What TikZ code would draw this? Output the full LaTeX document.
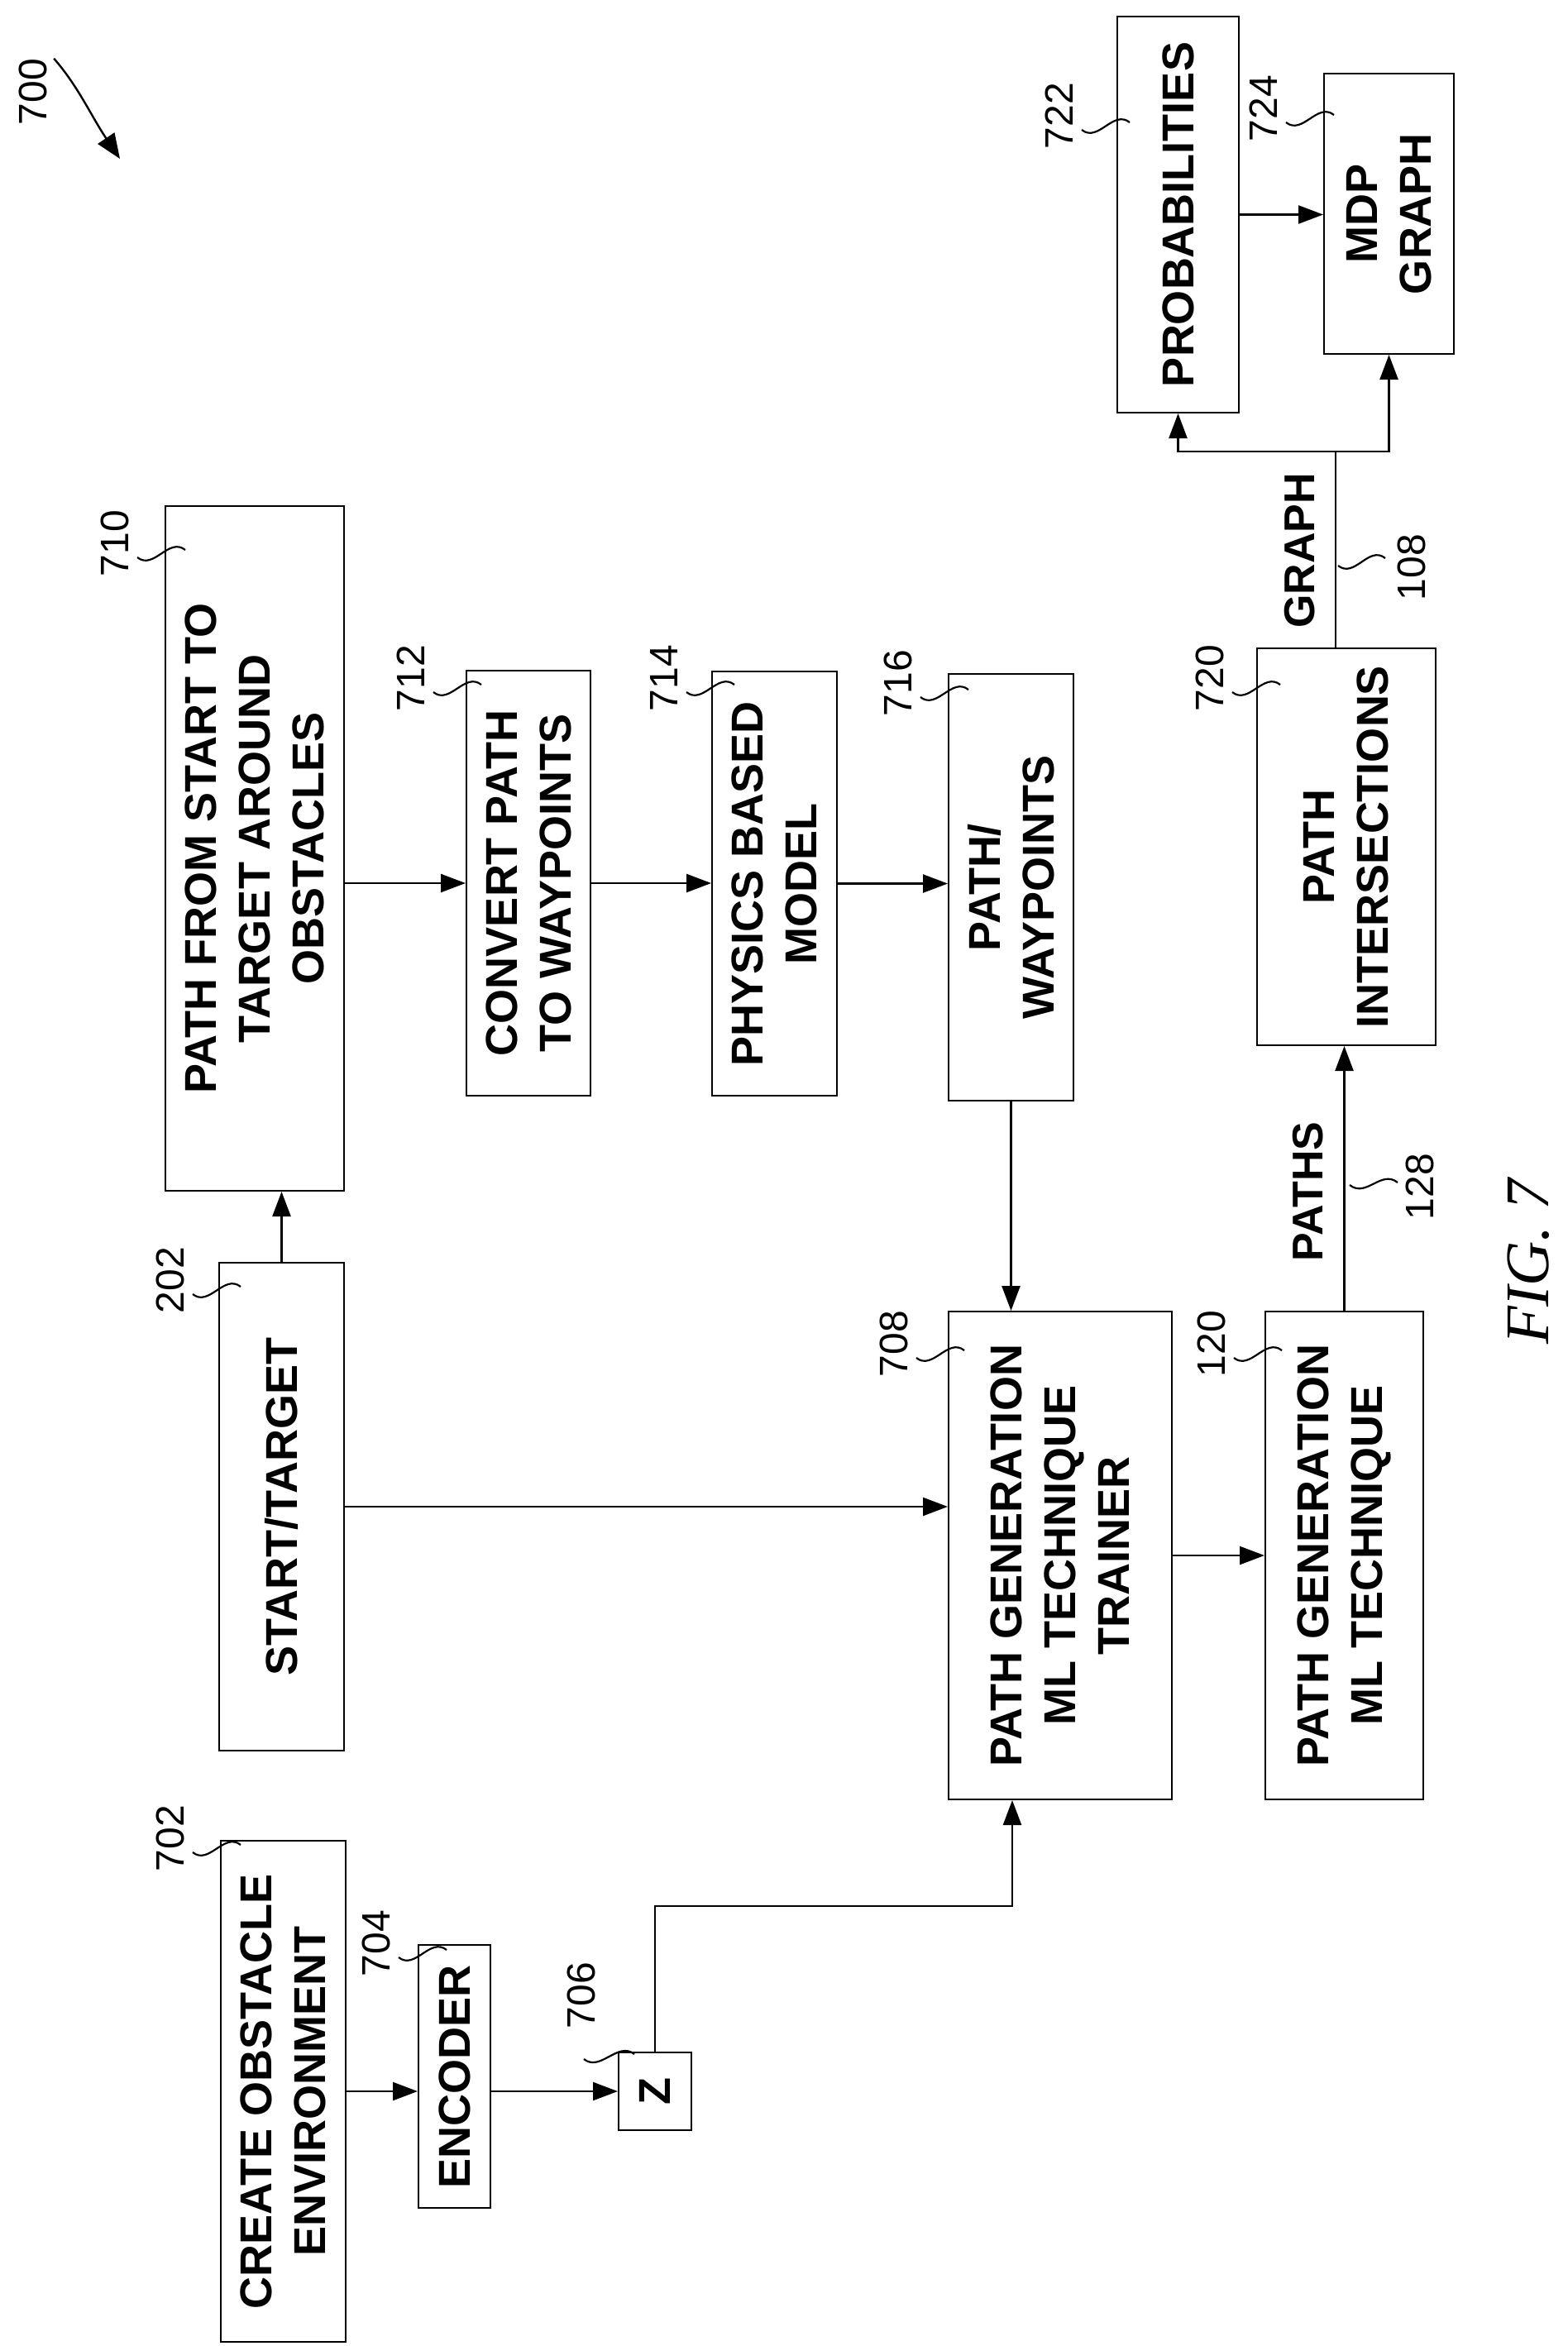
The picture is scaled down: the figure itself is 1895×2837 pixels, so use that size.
\documentclass[tikz,border=0pt]{standalone}
\usepackage{fontspec}
\setmainfont{Liberation Sans}
\newfontfamily\seriffont{Liberation Serif}
\usetikzlibrary{arrows.meta,calc}
\begin{document}
\begin{tikzpicture}[x=1pt,y=-1pt,
  box/.style={draw,line width=2pt,inner sep=0pt},
  txt/.style={rotate=90,align=center,font=\fontsize{54}{65}\selectfont\bfseries,inner sep=0pt},
  num/.style={rotate=90,font=\fontsize{48}{50}\selectfont,inner sep=0pt},
  arr/.style={line width=2.4pt,-{Triangle[length=30pt,width=22pt]}},
  ln/.style={line width=2.4pt},
  sq/.style={line width=2.2pt}]
\useasboundingbox (0,0) rectangle (1895,2837);
\newcommand\blk[6]{%
  \node[box,minimum width={(#4-#2)*1pt},minimum height={(#5-#3)*1pt}] (#1) at ({(#2+#4)/2},{(#3+#5)/2}) {};
  \node[txt] (#1t) at (#1.center) {#6};}
\newcommand\sqg[4]{%
  \draw[sq] (#1,#2) .. controls ($(#1,#2)+(20,16)$) and ($(#3,#4)+(-20,-16)$) .. (#3,#4);}
\newcommand\lbl[4]{%
  \node[num] (#1) at (#2,#3) {#4};
  \sqg{#2+27}{#3+17}{#2+85}{#3+8}}

\blk{n710}{200}{612}{416}{1440}{PATH FROM START TO\\TARGET AROUND\\OBSTACLES}
\blk{n712}{564}{811}{714}{1325}{CONVERT PATH\\TO WAYPOINTS}
\blk{n714}{861}{812}{1012}{1325}{PHYSICS BASED\\MODEL}
\blk{n716}{1147}{815}{1298}{1331}{PATH/\\WAYPOINTS}
\blk{n722}{1351}{20}{1498}{499}{PROBABILITIES}
\blk{n724}{1601}{89}{1758}{428}{MDP\\GRAPH}
\blk{n720}{1520}{784}{1736}{1264}{PATH\\INTERSECTIONS}
\blk{n708}{1147}{1586}{1417}{2176}{PATH GENERATION\\ML TECHNIQUE\\TRAINER}
\blk{n120}{1530}{1586}{1721}{2176}{PATH GENERATION\\ML TECHNIQUE}
\blk{n202}{265}{1527}{416}{2117}{START/TARGET}
\blk{n702}{267}{2226}{418}{2832}{CREATE OBSTACLE\\ENVIRONMENT}
\blk{n704}{506}{2352}{593}{2670}{ENCODER}
\blk{nz}{748}{2482}{836}{2576}{Z}

\lbl{l710}{139}{657}{710}
\lbl{l712}{497}{820}{712}
\lbl{l714}{803}{820}{714}
\lbl{l716}{1086}{826}{716}
\lbl{l722}{1281}{140}{722}
\lbl{l724}{1528}{131}{724}
\lbl{l720}{1463}{820}{720}
\lbl{l708}{1081}{1625}{708}
\lbl{l120}{1465}{1625}{120}
\lbl{l202}{206}{1548}{202}
\lbl{l702}{206}{2223}{702}
\lbl{l704}{455}{2350}{704}
\node[num] (l706) at (703,2413) {706};
\sqg{706}{2490}{767}{2484}

% 700
\node[num] (l700) at (40,111) {700};
\coordinate (t700) at (145,192);
\draw[line width=2.4pt,-{Triangle[length=30pt,width=24pt]}] (l700.south east) ++(8,0) .. controls (95,105) and (110,140) .. (t700);

% connectors
\draw[arr] (n202.north) -- (n202.north |- n710.south);
\draw[arr] (n712.west -| n710.east) -- (n712.west);
\draw[arr] (n712.east) -- (n712.east -| n714.west);
\draw[arr] (n714.east) -- (n714.east -| n716.west);
\draw[arr] (n716.south) -- (n716.south |- n708.north);
\draw[arr] (n202.east) -- (n202.east -| n708.west);
\draw[arr] (n708.east) -- (n708.east -| n120.west);
\draw[arr] (n120.north) -- (n120.north |- n720.south);
\coordinate (j) at (1615,546);
\draw[ln] (n720.north -| j) -- (j);
\draw[arr] (j) -| (n722.south);
\draw[arr] (j) -| (n724.south);
\draw[arr] (n722.east) -- (n722.east -| n724.west);
\draw[arr] (n702.east) -- (n702.east -| n704.west);
\draw[arr] (n704.east |- nz.west) -- (nz.west);
\coordinate (k) at (1224,2305);
\draw[arr] (nz.north) |- (k) -- (k |- n708.south);

% edge labels
\node[num,font=\fontsize{52}{54}\selectfont\bfseries] (graph) at (1572,666) {GRAPH};
\node[num] (l108) at (1707,686) {108};
\sqg{1618}{684}{1675}{675}
\node[num,font=\fontsize{52}{54}\selectfont\bfseries] (paths) at (1582,1441) {PATHS};
\node[num] (l128) at (1717,1435) {128};
\sqg{1632}{1433}{1690}{1430}

\node[rotate=90,inner sep=0pt,font=\seriffont\itshape\fontsize{75}{75}\selectfont] (fig) at (1848,1526) {FIG. 7};
\end{tikzpicture}
\end{document}
